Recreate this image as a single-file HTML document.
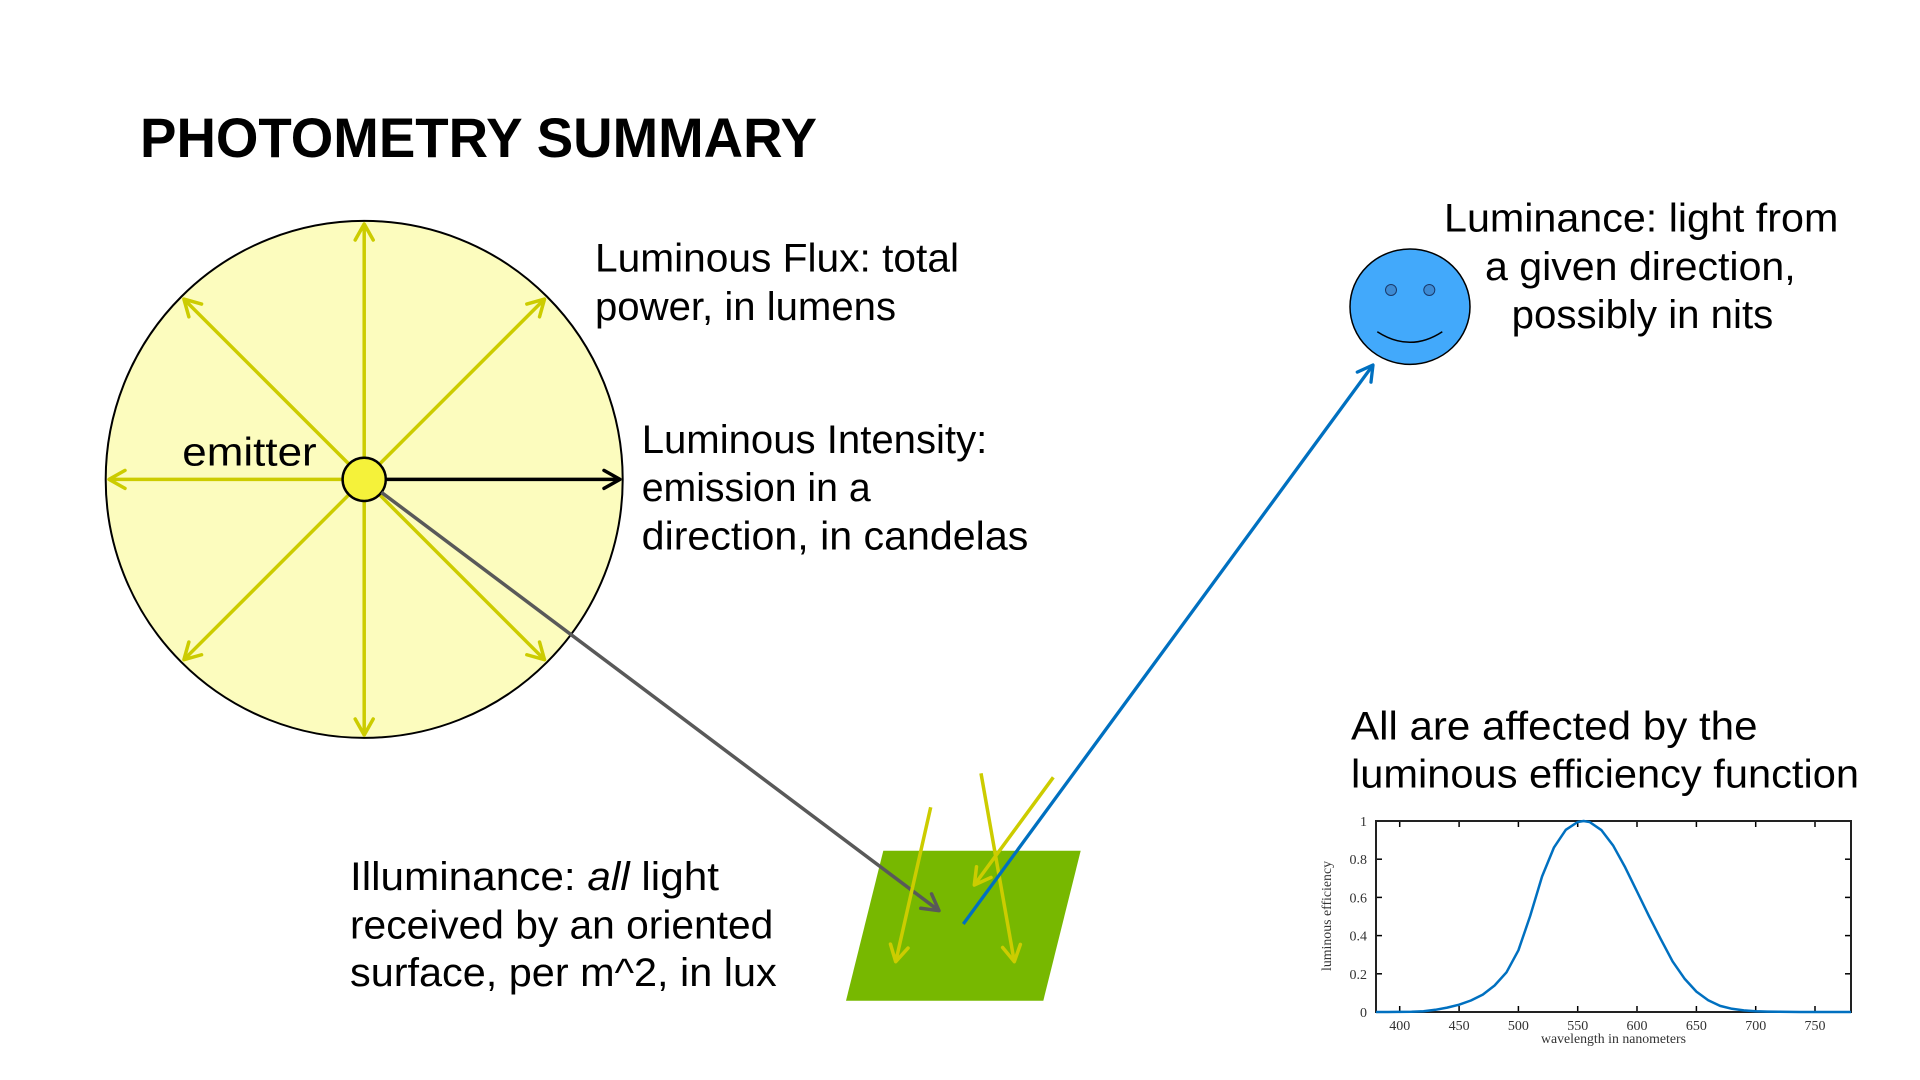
<!DOCTYPE html>
<html>
<head>
<meta charset="utf-8">
<style>
  html,body{margin:0;padding:0;background:#fff;}
  svg{display:block;}
  .t{font-family:"Liberation Sans",Arial,sans-serif;font-size:40px;fill:#000;}
  .ax{font-family:"Liberation Serif","Times New Roman",serif;font-size:14px;fill:#333;}
</style>
</head>
<body>
<svg width="1920" height="1080" viewBox="0 0 1920 1080" xmlns="http://www.w3.org/2000/svg">
  <defs>
    <marker id="aY" markerUnits="userSpaceOnUse" markerWidth="40" markerHeight="40" viewBox="-20 -20 40 40" refX="0" refY="0" orient="auto">
      <path d="M-16,-9 L0,0 L-16,9" fill="none" stroke="#CCCC00" stroke-width="3.5" stroke-linecap="round" stroke-linejoin="round"/>
    </marker>
    <marker id="aK" markerUnits="userSpaceOnUse" markerWidth="40" markerHeight="40" viewBox="-20 -20 40 40" refX="0" refY="0" orient="auto">
      <path d="M-16,-9 L0,0 L-16,9" fill="none" stroke="#000" stroke-width="3.5" stroke-linecap="round" stroke-linejoin="round"/>
    </marker>
    <marker id="aG" markerUnits="userSpaceOnUse" markerWidth="40" markerHeight="40" viewBox="-20 -20 40 40" refX="0" refY="0" orient="auto">
      <path d="M-16,-9 L0,0 L-16,9" fill="none" stroke="#595959" stroke-width="3.5" stroke-linecap="round" stroke-linejoin="round"/>
    </marker>
    <marker id="aB" markerUnits="userSpaceOnUse" markerWidth="40" markerHeight="40" viewBox="-20 -20 40 40" refX="0" refY="0" orient="auto">
      <path d="M-15,-8.5 L0,0 L-15,8.5" fill="none" stroke="#0070C0" stroke-width="3.3" stroke-linecap="round" stroke-linejoin="round"/>
    </marker>
  </defs>

  <!-- Title -->
  <text x="140" y="157" font-family="'Liberation Sans',Arial,sans-serif" font-weight="bold" font-size="56" fill="#000" textLength="677" lengthAdjust="spacingAndGlyphs">PHOTOMETRY SUMMARY</text>

  <!-- Big circle -->
  <circle cx="364.2" cy="479.4" r="258.5" fill="#FCFCBE" stroke="#000" stroke-width="2"/>

  <!-- Yellow rays -->
  <g stroke="#CCCC00" stroke-width="3.5" fill="none" marker-end="url(#aY)">
    <line x1="364.2" y1="479.4" x2="364.2" y2="224"/>
    <line x1="364.2" y1="479.4" x2="364.2" y2="735"/>
    <line x1="364.2" y1="479.4" x2="109" y2="479.4"/>
    <line x1="364.2" y1="479.4" x2="544.5" y2="299.1"/>
    <line x1="364.2" y1="479.4" x2="183.9" y2="299.1"/>
    <line x1="364.2" y1="479.4" x2="183.9" y2="659.7"/>
    <line x1="364.2" y1="479.4" x2="544.5" y2="659.7"/>
  </g>

  <!-- Black intensity arrow -->
  <line x1="385.8" y1="479.4" x2="620" y2="479.4" stroke="#000" stroke-width="3.5" marker-end="url(#aK)"/>

  <!-- emitter -->
  <text class="t" x="182.3" y="465.7" textLength="134.4" lengthAdjust="spacingAndGlyphs">emitter</text>
  <circle cx="364.2" cy="479.4" r="21.6" fill="#F5F23A" stroke="#000" stroke-width="2.5"/>

  <!-- Green surface -->
  <polygon points="883.3,850.7 1080.7,850.7 1043.3,1000.7 846,1000.7" fill="#77B800"/>

  <!-- Gray arrow to surface -->
  <line x1="381.5" y1="492.4" x2="939" y2="910.7" stroke="#595959" stroke-width="3.5" marker-end="url(#aG)"/>

  <!-- Yellow incoming arrows on surface -->
  <g stroke="#CCCC00" stroke-width="3.5" fill="none" marker-end="url(#aY)">
    <line x1="930.7" y1="807.3" x2="895.7" y2="961.7"/>
    <line x1="981" y1="773.3" x2="1014.3" y2="961.7"/>
    <line x1="1053.3" y1="777.3" x2="974.3" y2="885"/>
  </g>

  <!-- Blue arrow to viewer -->
  <line x1="963.3" y1="924" x2="1373" y2="365" stroke="#0070C0" stroke-width="3.3" marker-end="url(#aB)"/>

  <!-- Smiley -->
  <ellipse cx="1410" cy="306.7" rx="60" ry="57.7" fill="#42A9FB" stroke="#000" stroke-width="1.5"/>
  <circle cx="1391" cy="290" r="5.5" fill="#3D8BD4" stroke="#1A3A6A" stroke-width="1"/>
  <circle cx="1429.3" cy="290" r="5.5" fill="#3D8BD4" stroke="#1A3A6A" stroke-width="1"/>
  <path d="M1377.3,331.7 Q1410,352.9 1442.3,331.7" fill="none" stroke="#000" stroke-width="1.5"/>

  <!-- Luminous Flux text -->
  <text class="t" x="595" y="271.7" textLength="364" lengthAdjust="spacingAndGlyphs">Luminous Flux: total</text>
  <text class="t" x="595" y="319.8" textLength="301" lengthAdjust="spacingAndGlyphs">power, in lumens</text>

  <!-- Luminous Intensity text -->
  <text class="t" x="641.7" y="453" textLength="345.6" lengthAdjust="spacingAndGlyphs">Luminous Intensity:</text>
  <text class="t" x="641.7" y="501.2" textLength="229" lengthAdjust="spacingAndGlyphs">emission in a</text>
  <text class="t" x="641.7" y="549.4" textLength="386.6" lengthAdjust="spacingAndGlyphs">direction, in candelas</text>

  <!-- Luminance text -->
  <text class="t" x="1444" y="231.7" textLength="394.3" lengthAdjust="spacingAndGlyphs">Luminance: light from</text>
  <text class="t" x="1485" y="279.9" textLength="310.7" lengthAdjust="spacingAndGlyphs">a given direction,</text>
  <text class="t" x="1511.7" y="328.1" textLength="261.6" lengthAdjust="spacingAndGlyphs">possibly in nits</text>

  <!-- Illuminance text -->
  <text class="t" x="350" y="890" textLength="369" lengthAdjust="spacingAndGlyphs">Illuminance: <tspan font-style="italic">all</tspan> light</text>
  <text class="t" x="350" y="938.3" textLength="423.3" lengthAdjust="spacingAndGlyphs">received by an oriented</text>
  <text class="t" x="350" y="986" textLength="426.7" lengthAdjust="spacingAndGlyphs">surface, per m^2, in lux</text>

  <!-- All are affected text -->
  <text class="t" x="1351" y="739.5" textLength="406.5" lengthAdjust="spacingAndGlyphs">All are affected by the</text>
  <text class="t" x="1351" y="787.3" textLength="508" lengthAdjust="spacingAndGlyphs">luminous efficiency function</text>

  <!-- Chart -->
  <g>
    <g stroke="#000" stroke-width="1.5">
      <line x1="1399.7" y1="821" x2="1399.7" y2="827"/><line x1="1399.7" y1="1012" x2="1399.7" y2="1006"/>
      <line x1="1459.1" y1="821" x2="1459.1" y2="827"/><line x1="1459.1" y1="1012" x2="1459.1" y2="1006"/>
      <line x1="1518.4" y1="821" x2="1518.4" y2="827"/><line x1="1518.4" y1="1012" x2="1518.4" y2="1006"/>
      <line x1="1577.7" y1="821" x2="1577.7" y2="827"/><line x1="1577.7" y1="1012" x2="1577.7" y2="1006"/>
      <line x1="1637.0" y1="821" x2="1637.0" y2="827"/><line x1="1637.0" y1="1012" x2="1637.0" y2="1006"/>
      <line x1="1696.4" y1="821" x2="1696.4" y2="827"/><line x1="1696.4" y1="1012" x2="1696.4" y2="1006"/>
      <line x1="1755.7" y1="821" x2="1755.7" y2="827"/><line x1="1755.7" y1="1012" x2="1755.7" y2="1006"/>
      <line x1="1815.0" y1="821" x2="1815.0" y2="827"/><line x1="1815.0" y1="1012" x2="1815.0" y2="1006"/>

      <line x1="1376" y1="973.8" x2="1382" y2="973.8"/><line x1="1851" y1="973.8" x2="1845" y2="973.8"/>
      <line x1="1376" y1="935.6" x2="1382" y2="935.6"/><line x1="1851" y1="935.6" x2="1845" y2="935.6"/>
      <line x1="1376" y1="897.4" x2="1382" y2="897.4"/><line x1="1851" y1="897.4" x2="1845" y2="897.4"/>
      <line x1="1376" y1="859.2" x2="1382" y2="859.2"/><line x1="1851" y1="859.2" x2="1845" y2="859.2"/>
    </g>
    <rect x="1376" y="821" width="475" height="191" fill="none" stroke="#222" stroke-width="2"/>

    <polyline fill="none" stroke="#0070C0" stroke-width="2.5" stroke-linejoin="round"
      points="1376,1012 1387.9,1012 1399.7,1011.9 1411.6,1011.8 1423.5,1011.2 1435.3,1009.8 1447.2,1007.6 1459.1,1004.7 1470.9,1000.5 1482.8,994.6 1494.6,985.5 1506.5,972.3 1518.4,950.3 1530.2,915.9 1542.1,876.4 1554.0,847.4 1565.8,829.8 1577.7,822.0 1583.6,821 1589.6,822.0 1601.5,830.2 1613.3,845.8 1625.2,867.4 1637.0,891.5 1648.9,915.9 1660.8,939.2 1672.6,961.4 1684.5,978.6 1696.4,991.6 1708.2,1000.3 1720.1,1005.9 1732.0,1008.8 1743.8,1010.4 1755.7,1011.2 1767.5,1011.6 1779.4,1011.8 1800,1012 1851,1012"/>

    <g class="ax" text-anchor="end">
      <text x="1367" y="1017">0</text>
      <text x="1367" y="978.8">0.2</text>
      <text x="1367" y="940.6">0.4</text>
      <text x="1367" y="902.4">0.6</text>
      <text x="1367" y="864.2">0.8</text>
      <text x="1367" y="826">1</text>
    </g>
    <g class="ax" text-anchor="middle">
      <text x="1399.7" y="1030">400</text>
      <text x="1459.1" y="1030">450</text>
      <text x="1518.4" y="1030">500</text>
      <text x="1577.7" y="1030">550</text>
      <text x="1637.0" y="1030">600</text>
      <text x="1696.4" y="1030">650</text>
      <text x="1755.7" y="1030">700</text>
      <text x="1815.0" y="1030">750</text>
    </g>
    <text class="ax" x="1613.5" y="1043" text-anchor="middle" textLength="145" lengthAdjust="spacingAndGlyphs">wavelength in nanometers</text>
    <text class="ax" transform="translate(1331,916) rotate(-90)" x="0" y="0" text-anchor="middle" textLength="110" lengthAdjust="spacingAndGlyphs">luminous efficiency</text>
  </g>
</svg>
</body>
</html>
